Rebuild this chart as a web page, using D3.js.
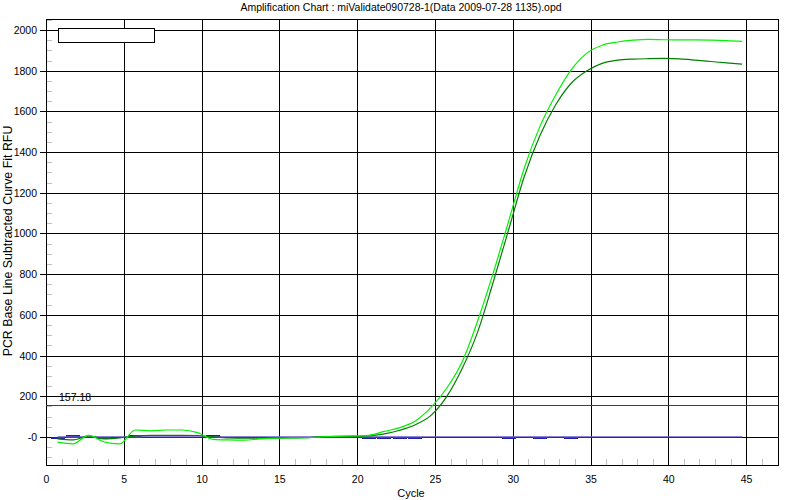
<!DOCTYPE html>
<html>
<head>
<meta charset="utf-8">
<script src="https://cdn.jsdelivr.net/npm/d3@7"></script>
<style>
  html, body { margin: 0; padding: 0; background: #ffffff; }
  svg { display: block; }
  text { font-family: "Liberation Sans", Arial, sans-serif; fill: #000; }
</style>
</head>
<body>
<svg id="chart" width="800" height="500"></svg>
<script>
// ---------------- data ----------------
const titleText = "Amplification Chart : miValidate090728-1(Data 2009-07-28 1135).opd";
const xLabel = "Cycle";
const yLabel = "PCR Base Line Subtracted Curve Fit RFU";

const cycles = [1,2,3,4,5,6,7,8,9,10,11,12,13,14,15,16,17,18,19,20,21,22,23,24,25,26,27,28,29,30,31,32,33,34,35,36,37,38,39,40,41,42,43,44,45];

// bright green sample
const sampleA = [-26,-34,8,-25,-34,34,30,34,34,21,-12,-15,-16,-10,-6,-5,-4,0,3,5,8,27,46,78,145,238,368,570,805,1062,1322,1525,1678,1803,1885,1925,1941,1950,1954,1952,1951,1951,1950,1948,1944];
// dark green sample
const sampleB = [-10,-15,5,-10,-5,5,8,8,8,7,0,-5,-6,-6,-6,-5,-4,2,3,3,5,15,33,60,106,197,335,515,760,1020,1280,1480,1630,1737,1798,1836,1852,1857,1859,1860,1858,1852,1845,1838,1832];
// near-zero blue sample (visible pieces only)
const blueCycles = [1,2,4,6,11,21,22,23,24,30,32,34];
const blueValues = [-4,3,-5,2,3,-6,-6,-6,-6,-6,-6,-6];

const threshold = 157.18;
const xTicks = [0,5,10,15,20,25,30,35,40,45];
const xMinorTicks = [1,2,3,4,6,7,8,9,11,12,13,14,16,17,18,19,21,22,23,24,26,27,28,29,31,32,33,34,36,37,38,39,41,42,43,44,46];
const yTicks = [0,200,400,600,800,1000,1200,1400,1600,1800,2000];
const yTickLabels = ["-0","200","400","600","800","1000","1200","1400","1600","1800","2000"];
const yMinorTicks = [-100,-50,50,100,150,250,300,350,450,500,550,650,700,750,850,900,950,1050,1100,1150,1250,1300,1350,1450,1500,1550,1650,1700,1750,1850,1900,1950,2050];

// ---------------- layout ----------------
const plot = { left: 46, right: 778, top: 19, bottom: 465 };
const seriesShift = -4; // the instrument draws traces slightly left of the grid
const svg = d3.select("#chart");

const x = d3.scaleLinear().domain([0, 47.05]).range([plot.left, plot.right]);
const y = d3.scaleLinear().domain([-138, 2054]).range([plot.bottom, plot.top]);
const px = v => Math.round(v) + 0.5;

// title
svg.append("text").attr("x", 401).attr("y", 11)
  .attr("text-anchor", "middle").attr("font-size", 10.5).text(titleText);

// frame background
svg.append("rect").attr("x", plot.left + 0.5).attr("y", plot.top + 0.5)
  .attr("width", plot.right - plot.left).attr("height", plot.bottom - plot.top)
  .attr("fill", "#fff");

// minor ticks (grey, inside)
const g = svg.append("g").attr("shape-rendering", "crispEdges");
g.selectAll(".xminor").data(xMinorTicks).enter().append("line")
  .attr("x1", d => px(x(d))).attr("x2", d => px(x(d)))
  .attr("y1", plot.bottom - 6).attr("y2", plot.bottom)
  .attr("stroke", "#c0c0c0");
g.selectAll(".yminor").data(yMinorTicks).enter().append("line")
  .attr("x1", plot.left).attr("x2", plot.left + 6)
  .attr("y1", d => px(y(d))).attr("y2", d => px(y(d)))
  .attr("stroke", "#c0c0c0");

// major grid
g.selectAll(".xgrid").data(xTicks).enter().append("line")
  .attr("x1", d => px(x(d))).attr("x2", d => px(x(d)))
  .attr("y1", plot.top).attr("y2", plot.bottom)
  .attr("stroke", "#000").attr("stroke-width", 1.3);
g.selectAll(".ygrid").data(yTicks).enter().append("line")
  .attr("x1", plot.left - 6).attr("x2", plot.right)
  .attr("y1", d => px(y(d))).attr("y2", d => px(y(d)))
  .attr("stroke", "#000").attr("stroke-width", 1.3);

// frame
g.append("rect").attr("x", px(plot.left)).attr("y", px(plot.top))
  .attr("width", plot.right - plot.left).attr("height", plot.bottom - plot.top)
  .attr("fill", "none").attr("stroke", "#000").attr("stroke-width", 1.3);

// tick labels
svg.selectAll(".xlab").data(xTicks).enter().append("text")
  .attr("x", d => x(d) + 0.5).attr("y", 483)
  .attr("text-anchor", "middle").attr("font-size", 10.5).text(d => d);
svg.selectAll(".ylab").data(yTicks).enter().append("text")
  .attr("x", 37).attr("y", d => y(d) + 4)
  .attr("text-anchor", "end").attr("font-size", 10.5)
  .text((d, i) => yTickLabels[i]);

// axis titles
svg.append("text").attr("x", 411).attr("y", 497)
  .attr("text-anchor", "middle").attr("font-size", 11).text(xLabel);
svg.append("text")
  .attr("transform", "translate(12," + 241 + ") rotate(-90)")
  .attr("text-anchor", "middle").attr("font-size", 12.4).text(yLabel);

// legend box (empty)
g.append("rect").attr("x", 58.5).attr("y", 28.5).attr("width", 96).attr("height", 14)
  .attr("fill", "#fff").attr("stroke", "#000");

// threshold
g.append("line").attr("x1", plot.left).attr("x2", plot.right)
  .attr("y1", px(y(threshold))).attr("y2", px(y(threshold)))
  .attr("stroke", "#006e00");
svg.append("text").attr("x", 59).attr("y", 401).attr("font-size", 10.5).text(threshold.toFixed(2));

// series
const sg = svg.append("g").attr("transform", "translate(" + seriesShift + ",0)");
const line = d3.line().x(d => x(d[0])).y(d => y(d[1]));
const smooth = d3.line().x(d => x(d[0])).y(d => y(d[1])).curve(d3.curveMonotoneX);

// blue near-zero sample pieces
sg.selectAll(".blue").data(blueCycles.map((c, i) => [c, blueValues[i]])).enter().append("path")
  .attr("d", d => line([[d[0] - 0.45, d[1]], [d[0] + 0.45, d[1]]]))
  .attr("stroke", "#2020a8").attr("stroke-width", 2.4).attr("fill", "none")
  .attr("shape-rendering", "crispEdges");

// baseline
sg.append("path").attr("d", line([[cycles[0], 0], [cycles[cycles.length - 1], 0]]))
  .attr("stroke", "#6a5acd").attr("stroke-width", 1.2).attr("fill", "none");

sg.append("path").attr("d", smooth(cycles.map((c, i) => [c, sampleB[i]])))
  .attr("stroke", "#008000").attr("stroke-width", 1.2).attr("fill", "none");
sg.append("path").attr("d", smooth(cycles.map((c, i) => [c, sampleA[i]])))
  .attr("stroke", "#00f000").attr("stroke-width", 1.2).attr("fill", "none");
</script>
</body>
</html>
